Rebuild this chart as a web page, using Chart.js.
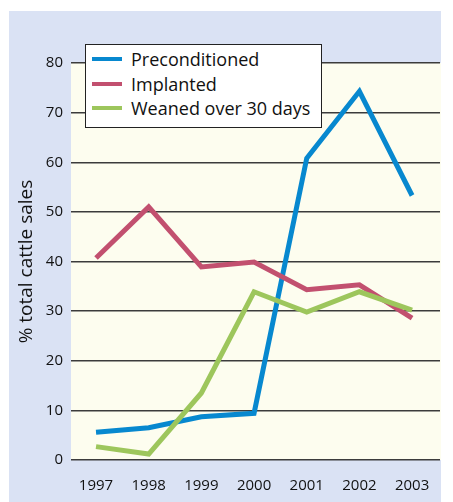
<!DOCTYPE html>
<html>
<head>
<meta charset="utf-8">
<script src="https://cdn.jsdelivr.net/npm/chart.js@4"></script>
<style>
    body { margin: 0; background: #ffffff; }
    #panel {
        position: absolute; left: 9px; top: 11px;
        width: 432px; height: 491px;
        background: #dae2f4;
    }
    #legend {
        position: absolute; left: 85px; top: 44px;
        width: 235px; height: 80px;
        background: #ffffff; border: 1.5px solid #222;
        font-family: "Open Sans", sans-serif; font-size: 18px; color: #111;
        padding-top: 2px; box-sizing: content-box;
    }
    .row { display: flex; align-items: center; height: 24.5px; }
    .swatch { width: 30px; height: 4px; margin-left: 6px; margin-right: 9px; }
</style>
</head>
<body>
<div id="panel"><canvas id="cattleChart" width="432" height="491"></canvas></div>
<div id="legend"></div>
<script>
// Data
const years = [1997, 1998, 1999, 2000, 2001, 2002, 2003];
const preconditioned = [5.6, 6.5, 8.7, 9.4, 60.8, 74.3, 53.3];
const implanted = [40.7, 51.0, 38.9, 39.9, 34.3, 35.3, 28.6];
const weaned = [2.7, 1.2, 13.5, 33.9, 29.8, 33.9, 30.2];
const yTicks = [0, 10, 20, 30, 40, 50, 60, 70, 80];

const seriesNames = ['Preconditioned', 'Implanted', 'Weaned over 30 days'];
const seriesColors = ['#0788cf', '#c2506f', '#9dc65c'];

function toPoints(values) {
    return years.map((yr, i) => ({ x: yr, y: values[i] }));
}

// yellow plot background
const plotBg = {
    id: 'plotBg',
    beforeDraw(chart) {
        const { ctx, chartArea: a } = chart;
        ctx.save();
        ctx.fillStyle = '#fdfdef';
        ctx.fillRect(a.left, a.top, a.right - a.left + 1, a.bottom - a.top);
        ctx.restore();
    }
};

const ctx = document.getElementById('cattleChart').getContext('2d');
const chart = new Chart(ctx, {
    type: 'line',
    data: {
        datasets: [preconditioned, implanted, weaned].map((vals, i) => ({
            label: seriesNames[i],
            data: toPoints(vals),
            borderColor: seriesColors[i],
            backgroundColor: seriesColors[i],
            borderWidth: 5,
            pointRadius: 0,
            tension: 0,
            borderJoinStyle: 'miter'
        })).reverse()
    },
    options: {
        responsive: false,
        animation: false,
        layout: { padding: { top: 52, right: 1, left: 0, bottom: 0 } },
        plugins: {
            legend: { display: false },
            tooltip: { enabled: false }
        },
        scales: {
            x: {
                type: 'linear',
                min: 1996.525,
                max: 2003.53,
                afterBuildTicks: (axis) => { axis.ticks = years.map(v => ({ value: v })); },
                afterFit: (axis) => { axis.height = 42; },
                grid: { display: false },
                border: { display: false },
                ticks: {
                    padding: 9,
                    color: '#111',
                    font: { family: 'Open Sans', size: 15 },
                    callback: (v) => String(v)
                }
            },
            y: {
                min: 0,
                max: 80,
                afterBuildTicks: (axis) => { axis.ticks = yTicks.map(v => ({ value: v })); },
                afterFit: (axis) => { axis.width = 62; },
                border: { display: false },
                grid: {
                    color: '#3c3c3c',
                    lineWidth: 1.5,
                    drawTicks: true,
                    tickLength: 0
                },
                ticks: {
                    padding: 8,
                    color: '#111',
                    font: { family: 'Open Sans', size: 15 }
                },
                title: {
                    display: true,
                    text: '% total cattle sales',
                    color: '#111',
                    font: { family: 'Open Sans', size: 19 },
                    padding: { top: 6, bottom: 0 }
                }
            }
        }
    },
    plugins: [plotBg]
});

// HTML legend
const legendEl = document.getElementById('legend');
seriesNames.forEach((name, i) => {
    const row = document.createElement('div');
    row.className = 'row';
    row.innerHTML = `<span class="swatch" style="background:${seriesColors[i]}"></span><span>${name}</span>`;
    legendEl.appendChild(row);
});
</script>
</body>
</html>
